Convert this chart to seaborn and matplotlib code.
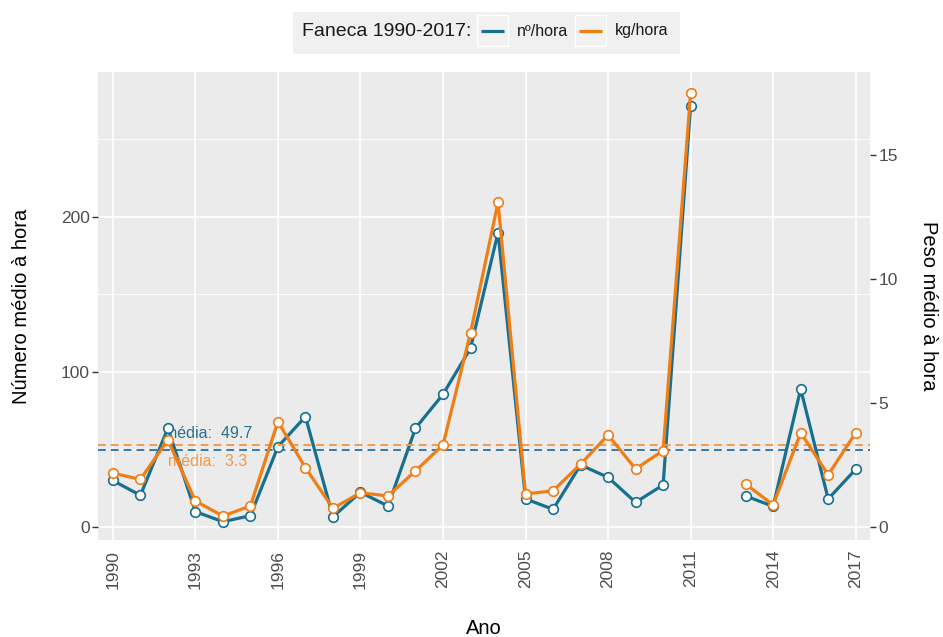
import numpy as np
import pandas as pd
import matplotlib
matplotlib.use("Agg")
import matplotlib.pyplot as plt
from matplotlib.lines import Line2D
from matplotlib.patches import Rectangle
from matplotlib.ticker import MultipleLocator
import seaborn as sns

# Faneca catch rates per year (2012 without survey)
anos = list(range(1990, 2018))
n_hora = [30.0, 20.4, 63.7, 9.9, 3.4, 7.3, 51.8, 71.2, 6.6, 22.4, 13.5, 63.7, 85.6, 115.3,
          189.9, 18.1, 11.4, 40.0, 32.0, 15.9, 27.1, 271.8, np.nan, 20.0, 13.3, 89.0, 18.1, 37.2]
kg_hora = [2.17, 1.92, 3.51, 1.05, 0.44, 0.85, 4.25, 2.39, 0.75, 1.38, 1.25, 2.26, 3.31, 7.83,
           13.09, 1.33, 1.46, 2.53, 3.71, 2.34, 3.08, 17.49, np.nan, 1.73, 0.89, 3.80, 2.10, 3.80]
n_media = 49.7
kg_media = 3.3
x_ticks = list(range(1990, 2018, 3))
y_ticks_n = [0, 100, 200]
y_ticks_kg = [0, 5, 10, 15]
legenda_titulo = "Faneca 1990-2017:"
legenda_series = ["nº/hora", "kg/hora"]

AZUL = "#17708f"
LARANJA = "#f07e16"
AZUL_MEDIA = "#2f7bb2"
LARANJA_MEDIA = "#f39a48"

sns.set_theme(style="darkgrid", rc={
    "axes.facecolor": "#ebebeb",
    "grid.color": "white",
    "axes.edgecolor": "#ebebeb",
})
plt.rcParams["font.family"] = ["Liberation Sans", "DejaVu Sans"]

df = pd.DataFrame({"Ano": anos, "n": n_hora, "kg": kg_hora})
df["troco"] = df["n"].isna().cumsum()
df = df.dropna()

W, H = 943, 637
fig = plt.figure(figsize=(W / 100, H / 100), dpi=100)
ax = fig.add_axes([98 / W, 1 - 540 / H, (870 - 98) / W, (540 - 72) / H])
ax2 = ax.twinx()

ylim_n = (-8.4, 293.5)
escala = 16.0
ax.set_ylim(*ylim_n)
ax2.set_ylim(ylim_n[0] / escala, ylim_n[1] / escala)
ax.set_xlim(1989.46, 2017.52)

# mean reference lines
ax.axhline(n_media, color=AZUL_MEDIA, ls=(0, (4, 2.6)), lw=1.4, zorder=1)
ax2.axhline(kg_media, color=LARANJA_MEDIA, ls=(0, (4, 2.6)), lw=1.4, zorder=1)

marker_kws = dict(marker="o", markersize=6.9, markerfacecolor="white", markeredgewidth=1.2)
sns.lineplot(data=df, x="Ano", y="n", units="troco", estimator=None, ax=ax,
             color=AZUL, lw=2.3, markeredgecolor=AZUL, zorder=3, **marker_kws)
sns.lineplot(data=df, x="Ano", y="kg", units="troco", estimator=None, ax=ax2,
             color=LARANJA, lw=2.3, markeredgecolor=LARANJA, zorder=3, **marker_kws)

ax.text(1993.45, 60, f"média:  {n_media}", color="#2b6e8d", fontsize=11.5,
        ha="center", va="center", zorder=2)
ax2.text(1993.45, 2.66, f"média:  {kg_media}", color="#f09a45", fontsize=11.5,
         ha="center", va="center", zorder=2)

# grid: major + minor horizontal lines on the left scale only
ax.set_xticks(x_ticks)
ax.set_yticks(y_ticks_n)
ax.yaxis.set_minor_locator(MultipleLocator(50))
ax.grid(which="major", color="white", lw=1.2)
ax.grid(which="minor", axis="y", color="white", lw=0.6)
ax.set_axisbelow(True)
ax2.grid(False)
ax2.set_yticks(y_ticks_kg)
ax2.patch.set_visible(False)

for a in (ax, ax2):
    for s in a.spines.values():
        s.set_visible(False)

tick_kw = dict(colors="#333333", labelcolor="#4d4d4d", labelsize=12.5, length=4, width=1.0)
ax.tick_params(axis="x", which="major", rotation=90, pad=3, **tick_kw)
ax.tick_params(axis="y", which="major", pad=2, **tick_kw)
ax.tick_params(axis="y", which="minor", length=0)
ax2.tick_params(axis="y", which="major", pad=2, **tick_kw)

ax.set_xlabel("Ano", fontsize=14.5, labelpad=22, color="black")
ax.set_ylabel("Número médio à hora", fontsize=14.5, labelpad=21, color="black")
ax2.set_ylabel("Peso médio à hora", fontsize=14.5, rotation=270, labelpad=29, color="black")

# top legend strip
def fx(px):
    return px / W

def fy(py):
    return 1 - py / H

fig.patches.append(Rectangle((fx(293), fy(54)), 387 / W, 42 / H,
                             transform=fig.transFigure, facecolor="#f0f0f0",
                             edgecolor="none", zorder=0))
fig.text(fx(302), fy(32), legenda_titulo, fontsize=14, ha="left",
         va="center", color="#1a1a1a")
for x0, cor, rotulo in zip((477, 575), (AZUL, LARANJA), legenda_series):
    fig.patches.append(Rectangle((fx(x0), fy(46)), 31 / W, 31 / H,
                                 transform=fig.transFigure, facecolor="#f2f2f2",
                                 edgecolor="white", lw=1.0, zorder=0.5))
    fig.add_artist(Line2D([fx(x0 + 4), fx(x0 + 27)], [fy(30.5), fy(30.5)],
                          transform=fig.transFigure, color=cor, lw=2.3,
                          solid_capstyle="butt"))
    fig.text(fx(x0 + 40), fy(31), rotulo, fontsize=11.5, ha="left", va="center",
             color="#1a1a1a")

fig.savefig("out.png", dpi=100)
